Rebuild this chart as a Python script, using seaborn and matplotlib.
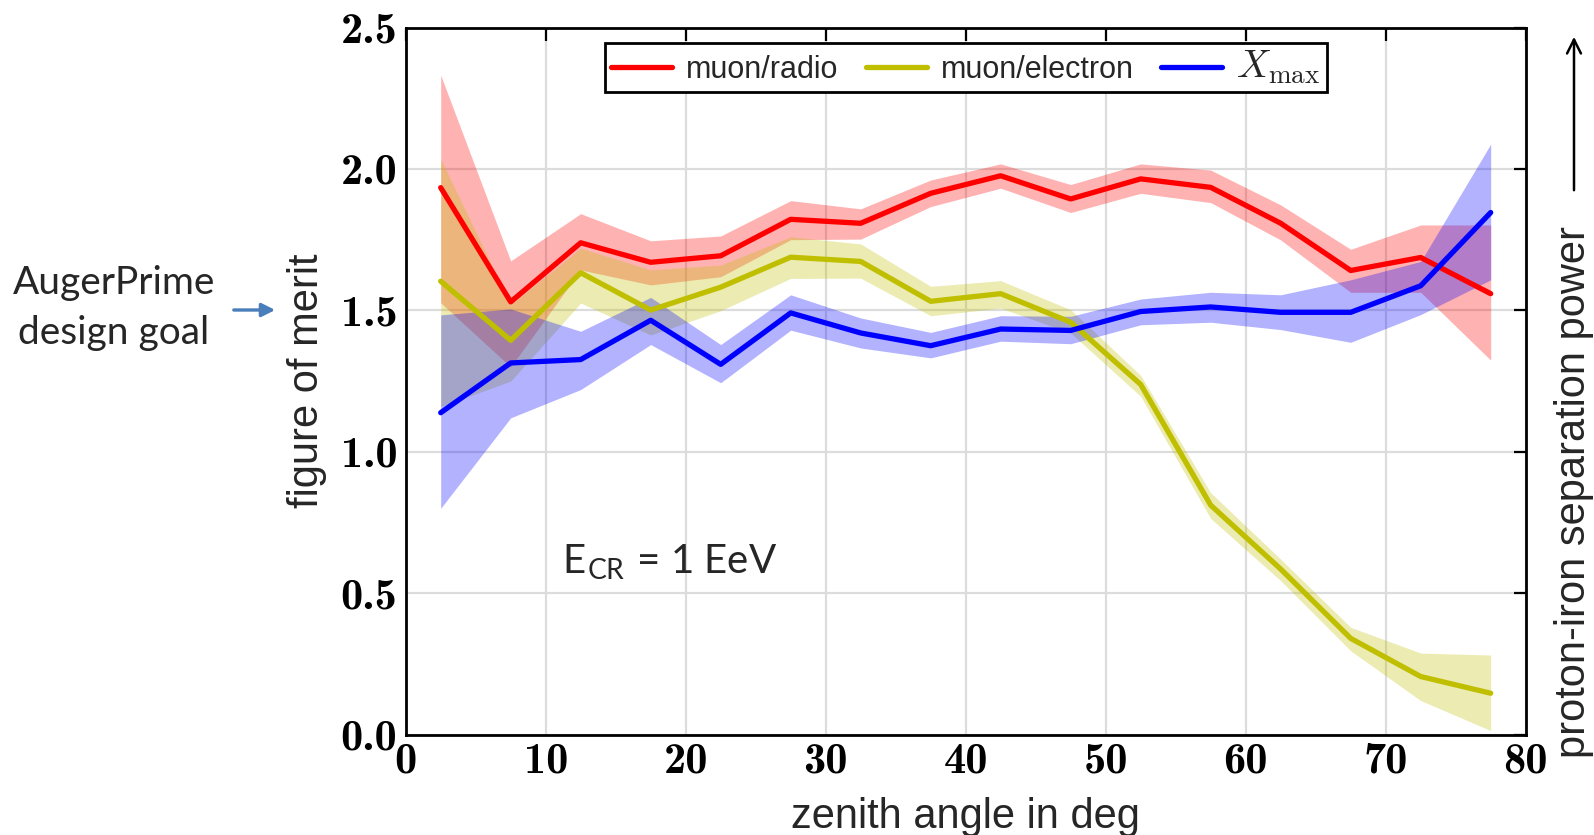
import numpy as np
import pandas as pd
import matplotlib
matplotlib.use("Agg")
import matplotlib.pyplot as plt
import seaborn as sns
from matplotlib.ticker import FuncFormatter

# ---------------- data ----------------
zenith = [2.5, 7.5, 12.5, 17.5, 22.5, 27.5, 32.5, 37.5, 42.5, 47.5,
          52.5, 57.5, 62.5, 67.5, 72.5, 77.5]

radio = [1.934, 1.530, 1.739, 1.670, 1.693, 1.822, 1.808, 1.914, 1.976, 1.894,
         1.965, 1.935, 1.808, 1.641, 1.687, 1.559]
radio_hi = [2.332, 1.675, 1.842, 1.746, 1.763, 1.888, 1.859, 1.961, 2.018, 1.945,
            2.018, 1.996, 1.873, 1.716, 1.802, 1.802]
radio_lo = [1.527, 1.300, 1.643, 1.590, 1.619, 1.750, 1.752, 1.867, 1.932, 1.846,
            1.914, 1.881, 1.749, 1.564, 1.564, 1.324]

electron = [1.603, 1.394, 1.633, 1.501, 1.582, 1.688, 1.673, 1.532, 1.559, 1.458,
            1.238, 0.811, 0.585, 0.340, 0.205, 0.146]
electron_hi = [2.035, 1.520, 1.720, 1.643, 1.660, 1.760, 1.735, 1.585, 1.605, 1.502,
               1.270, 0.855, 0.620, 0.379, 0.288, 0.281]
electron_lo = [1.160, 1.250, 1.526, 1.413, 1.499, 1.613, 1.614, 1.481, 1.508, 1.420,
               1.196, 0.764, 0.544, 0.296, 0.120, 0.014]

xmax = [1.138, 1.314, 1.326, 1.465, 1.309, 1.491, 1.420, 1.375, 1.434, 1.429,
        1.496, 1.512, 1.493, 1.493, 1.587, 1.846]
xmax_hi = [1.484, 1.505, 1.426, 1.546, 1.379, 1.555, 1.473, 1.422, 1.481, 1.479,
           1.540, 1.564, 1.555, 1.608, 1.673, 2.088]
xmax_lo = [0.800, 1.120, 1.220, 1.379, 1.244, 1.430, 1.367, 1.332, 1.391, 1.382,
           1.449, 1.458, 1.432, 1.387, 1.485, 1.608]

series_names = ["muon/radio", "muon/electron", r"$X_{\mathrm{max}}$"]
series_colors = ["#ff0000", "#bfbf00", "#0000ff"]

x_ticks = [0, 10, 20, 30, 40, 50, 60, 70, 80]
y_ticks = [0.0, 0.5, 1.0, 1.5, 2.0, 2.5]

# ---------------- style ----------------
sns.set_style("white")
plt.rcParams["mathtext.fontset"] = "cm"
label_font = ["Liberation Sans", "DejaVu Sans"]
note_font = ["Lato", "DejaVu Sans"]

W, H = 1594, 835
fig = plt.figure(figsize=(W / 100, H / 100), dpi=100)
ax_h = (734.5 - 27.6) / H
ax = fig.add_axes([405.7 / W, 1 - 734.5 / H, 1120 / W, ax_h])

df = pd.DataFrame({
    "zenith": zenith * 3,
    "fom": radio + electron + xmax,
    "series": [series_names[0]] * 16 + [series_names[1]] * 16 + [series_names[2]] * 16,
})

bands = [(radio_lo, radio_hi), (electron_lo, electron_hi), (xmax_lo, xmax_hi)]
for (lo, hi), c in zip(bands, series_colors):
    ax.fill_between(zenith, lo, hi, color=c, alpha=0.3, linewidth=0, zorder=1)

sns.lineplot(data=df, x="zenith", y="fom", hue="series", hue_order=series_names,
             palette=series_colors, linewidth=3.8, ax=ax, zorder=3, legend=True)

ax.set_xlim(0, 80)
ax.set_ylim(0, 2.5)
ax.set_xticks(x_ticks)
ax.set_yticks(y_ticks)
ax.xaxis.set_major_formatter(FuncFormatter(lambda v, p: "%d" % v))
ax.yaxis.set_major_formatter(FuncFormatter(lambda v, p: "%.1f" % v))
ax.grid(True, color="#dcdcdc", linewidth=1.6, zorder=0)
ax.set_axisbelow(True)
for s in ax.spines.values():
    s.set_color("black")
    s.set_linewidth(2.0)
ax.tick_params(direction="in", length=9, width=1.6, top=True, right=True,
               labelsize=32, pad=6, colors="black")
for lbl in ax.get_xticklabels() + ax.get_yticklabels():
    lbl.set_fontfamily("cmb10")

ax.set_xlabel("zenith angle in deg", fontsize=30, family=label_font, labelpad=11)
ax.set_ylabel("figure of merit", fontsize=30, family=label_font, labelpad=10)

handles, labels = ax.get_legend_handles_labels()
leg = ax.legend(handles, labels, loc="upper center", ncol=3, frameon=True,
                fancybox=False, framealpha=1, edgecolor="black",
                bbox_to_anchor=(0.5, 1 - 15 / 707), borderaxespad=0,
                handlelength=2.0, columnspacing=0.9,
                handletextpad=0.45, borderpad=0.2,
                prop={"family": label_font, "size": 22})
leg.get_frame().set_linewidth(2.0)
for line in leg.get_lines():
    line.set_linewidth(3.8)
for t in leg.get_texts():
    if "X" in t.get_text():
        t.set_fontsize(28)

ax.text(11.2, 0.61, r"E$_{\mathregular{CR}}$ = 1 EeV", fontsize=29,
        family=note_font, va="center", ha="left")

# annotations outside the axes (figure pixel coordinates)
def fx(px):
    return px / W

def fy(py):
    return 1 - py / H

fig.text(fx(114), fy(308), "AugerPrime\ndesign goal", ha="center", va="center",
         fontsize=28, family=note_font, linespacing=1.45)
fig.patches.append(matplotlib.patches.FancyArrowPatch(
    (fx(231), fy(310)), (fx(278), fy(310)), transform=fig.transFigure,
    arrowstyle="-|>", mutation_scale=20, color="#4a7ebb", linewidth=2.4))

fig.text(fx(1574), fy(492), "proton-iron separation power", rotation=90,
         ha="center", va="center", fontsize=30, family=label_font)
fig.patches.append(matplotlib.patches.FancyArrowPatch(
    (fx(1574), fy(193)), (fx(1574), fy(34)), transform=fig.transFigure,
    arrowstyle="->", mutation_scale=25, color="black", linewidth=1.8))

fig.savefig("out.png", dpi=100)
